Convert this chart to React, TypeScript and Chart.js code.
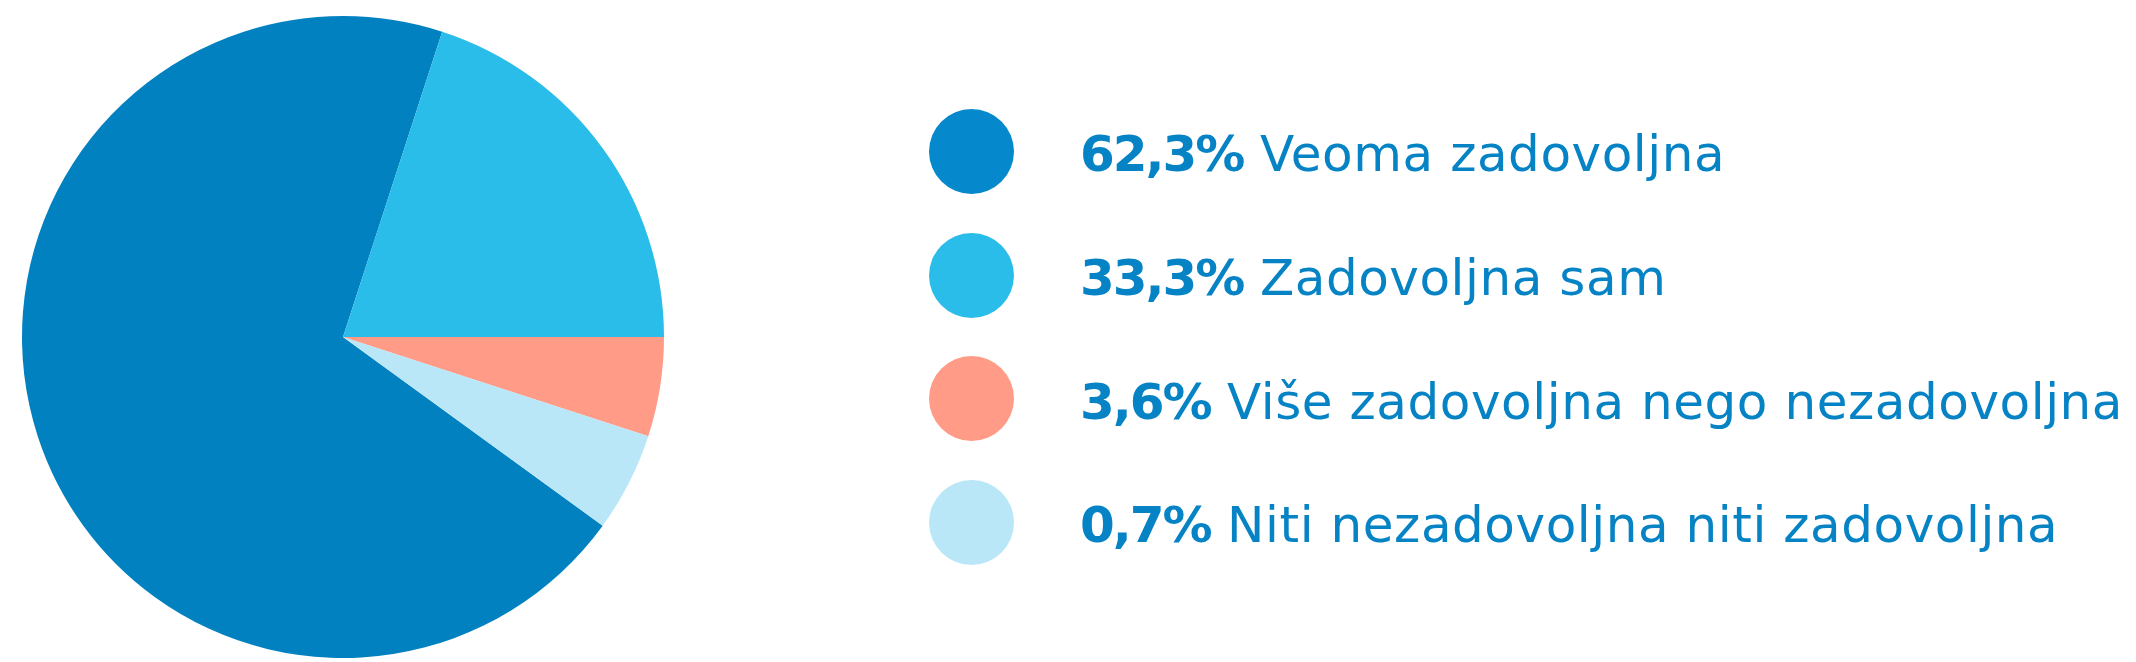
import React, { useEffect, useRef } from "react";
import { Chart, registerables } from "chart.js";

Chart.register(...registerables);

// Slice sizes as drawn in the pie (share of the full circle)
const pieValues = [70, 20, 5, 5];
// Legend texts
const percentLabels = ["62,3%", "33,3%", "3,6%", "0,7%"];
const categories = [
  "Veoma zadovoljna",
  "Zadovoljna sam",
  "Više zadovoljna nego nezadovoljna",
  "Niti nezadovoljna niti zadovoljna",
];
const sliceColors = ["#0281C1", "#2BBDE9", "#FF9B87", "#BAE7F7"];
const dotColors = ["#0589CC", "#2BBDE9", "#FF9B87", "#BAE7F7"];
const textColor = "#0683C4";

const FONT = "'DejaVu Sans', sans-serif";
const FONT_SIZE = 50;

export default function App() {
  const canvasRef = useRef<HTMLCanvasElement | null>(null);

  useEffect(() => {
    if (!canvasRef.current) return;
    const chart = new Chart(canvasRef.current, {
      type: "pie",
      data: {
        labels: categories,
        datasets: [
          {
            data: pieValues,
            backgroundColor: sliceColors,
            borderWidth: 0,
          },
        ],
      },
      options: {
        animation: false,
        responsive: true,
        maintainAspectRatio: false,
        rotation: 126,
        layout: { padding: 0 },
        plugins: {
          legend: { display: false },
          tooltip: { enabled: false },
        },
      },
    });
    return () => chart.destroy();
  }, []);

  const rowCenters = [151.5, 275.2, 398.9, 522.6];

  return (
    <div
      style={{
        position: "fixed",
        left: 0,
        top: 0,
        width: 2136,
        height: 662,
        background: "#ffffff",
        overflow: "hidden",
      }}
    >
      <div
        style={{
          position: "absolute",
          left: 22,
          top: 16,
          width: 642,
          height: 642,
        }}
      >
        <canvas ref={canvasRef} />
      </div>
      {categories.map((cat, i) => {
        const cy = rowCenters[i];
        const baseline = cy + 20;
        const top = baseline - 0.928 * FONT_SIZE + (1.164 * FONT_SIZE - FONT_SIZE) / 2;
        return (
          <React.Fragment key={cat}>
            <div
              style={{
                position: "absolute",
                left: 971 - 42.5,
                top: cy - 42.5,
                width: 85,
                height: 85,
                borderRadius: "50%",
                background: dotColors[i],
              }}
            />
            <div
              style={{
                position: "absolute",
                left: 1080,
                top: top,
                fontFamily: FONT,
                fontSize: FONT_SIZE,
                lineHeight: FONT_SIZE + "px",
                color: textColor,
                whiteSpace: "nowrap",
              }}
            >
              <span style={{ fontWeight: 700, letterSpacing: "-2px" }}>{percentLabels[i]}</span>
              <span style={{ fontWeight: 400, letterSpacing: "0.55px" }}>{" " + cat}</span>
            </div>
          </React.Fragment>
        );
      })}
    </div>
  );
}
